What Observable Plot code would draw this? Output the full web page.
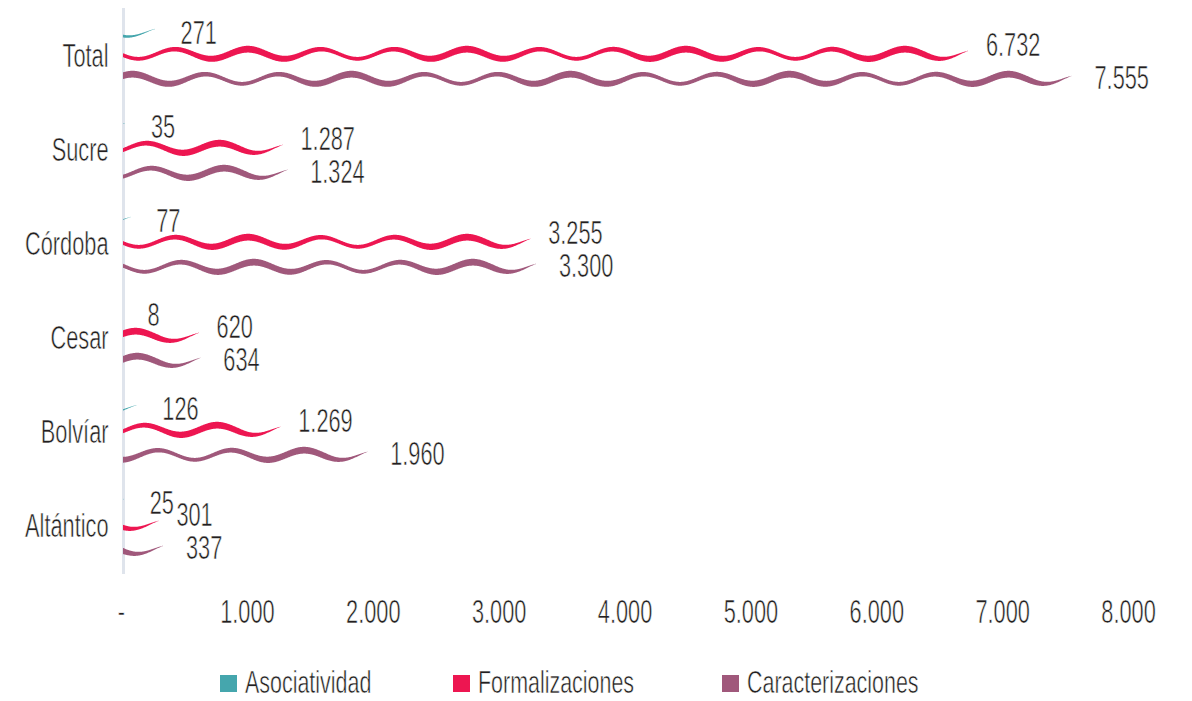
<!DOCTYPE html>
<html>
<head>
<meta charset="utf-8">
<script src="https://cdn.jsdelivr.net/npm/d3@7"></script>
<script src="https://cdn.jsdelivr.net/npm/@observablehq/plot@0.6"></script>
<style>
  body { margin: 0; background: #ffffff; }
  #chart { position: relative; width: 1192px; height: 701px; overflow: hidden;
           font-family: "Liberation Sans", sans-serif; color: #231f20; }
  #chart svg text { stroke: #ffffff; stroke-width: 0.6px; }
  .legend { position: relative; height: 51px; }
  .legend .sw { position: absolute; top: 25px; width: 17px; height: 17px; }
  .legend .lb { position: absolute; top: 16px; font-size: 32px; line-height: 1; white-space: nowrap;
                -webkit-text-stroke: 0.6px #ffffff;
                transform: scaleX(0.67); transform-origin: left center; }
</style>
</head>
<body>
<div id="chart"></div>
<script>
// ---- data ----
const categories = ["Total", "Sucre", "Córdoba", "Cesar", "Bolvíar", "Altántico"];
const series = ["Asociatividad", "Formalizaciones", "Caracterizaciones"];
const asociatividad     = [271, 35, 77, 8, 126, 25];
const formalizaciones   = [6732, 1287, 3255, 620, 1269, 301];
const caracterizaciones = [7555, 1324, 3300, 634, 1960, 337];
const xTicks = [0, 1000, 2000, 3000, 4000, 5000, 6000, 7000, 8000];
const colors = ["#45a6ad", "#ed1651", "#a0587b"];

// ---- table built from the arrays ----
const seriesValues = {Asociatividad: asociatividad, Formalizaciones: formalizaciones, Caracterizaciones: caracterizaciones};
const table = series.flatMap(s => categories.map((c, j) => ({category: c, series: s, value: seriesValues[s][j]})));

const fmt = v => v === 0 ? "-" : d3.format(",")(v).replace(/,/g, ".");

// ---- styling of the wavy bars ----
const rowOffset = {Asociatividad: -24, Formalizaciones: -2, Caracterizaciones: 23};
const waveAmp   = {Asociatividad: 4.5, Formalizaciones: 4.8, Caracterizaciones: 4.8};
const waveThick = {Asociatividad: [3.3, 0.5], Formalizaciones: [5.3, 1.5], Caracterizaciones: [5.3, 1.5]};
const PERIOD = 73, TROUGH = 27, TPERIOD = 217;

function waveRender(index, scales, values) {
  const g = d3.create("svg:g");
  const bw = scales.y && scales.y.bandwidth ? scales.y.bandwidth() : 94;
  for (const i of index) {
    const d = table[i];
    const xa = Math.min(values.x1[i], values.x2[i]) + 2;
    const xb = Math.max(values.x1[i], values.x2[i]);
    if (xb - xa < 1) continue;
    const yc = values.y[i] + bw / 2 + rowOffset[d.series];
    const A = waveAmp[d.series];
    const [tb, ta] = waveThick[d.series];
    const pts = [];
    for (let px = xa; px <= xb + 0.01; px += 0.5) {
      const dist = xb - px;
      const c = yc + A * Math.cos(2 * Math.PI * (dist - TROUGH) / PERIOD);
      const taper = Math.pow(Math.min(1, dist / 42), 0.8);
      const w = Math.max(0.3, (tb + ta * Math.cos(2 * Math.PI * (dist - 70) / TPERIOD)) * taper);
      pts.push([px, c - w / 2, c + w / 2]);
    }
    g.append("path")
      .attr("d", d3.area().x(p => p[0]).y0(p => p[1]).y1(p => p[2])(pts))
      .attr("fill", values.fill ? values.fill[i] : colors[series.indexOf(d.series)]);
  }
  return g.node();
}

const labelDx = [25, 17, 22];
const labelDy = [-23, -11, 22];

const plot = Plot.plot({
  width: 1192,
  height: 650,
  marginLeft: 121,
  marginRight: 64,
  marginTop: 8,
  marginBottom: 76,
  x: {domain: [0, 8000], label: null},
  y: {domain: categories, padding: 0, label: null},
  color: {domain: series, range: colors},
  style: {fontFamily: '"Liberation Sans", sans-serif', fontSize: "33px", color: "#231f20", background: "#ffffff"},
  marks: [
    Plot.axisX({ticks: xTicks, tickFormat: fmt, tickSize: 0, tickPadding: 25, fill: "#231f20", label: null}),
    Plot.axisY({tickSize: 0, tickPadding: 13, fill: "#231f20", label: null}),
    Plot.ruleX([0], {stroke: "#dfe4ec", strokeWidth: 3, dx: 2}),
    Plot.barX(table, {x1: () => 0, x2: "value", y: "category", fill: "series", render: waveRender}),
    ...series.map((s, k) => Plot.text(table.filter(d => d.series === s), {
      x: "value", y: "category", text: d => fmt(d.value), textAnchor: "start",
      dx: labelDx[k], dy: labelDy[k], fill: "#231f20"
    }))
  ]
});

// condense all text horizontally around its anchor point
const SX = 0.66;
d3.select(plot).selectAll("text").each(function() {
  const t = this.getAttribute("transform");
  if (t) this.setAttribute("transform", t + ` scale(${SX},1)`);
  else {
    const x = +(this.getAttribute("x") || 0);
    this.setAttribute("x", x / SX);
    this.setAttribute("transform", `scale(${SX},1)`);
  }
});

const root = d3.select("#chart");
root.node().appendChild(plot);

const legend = root.append("div").attr("class", "legend");
const legendX = [220, 453, 722];
series.forEach((s, k) => {
  legend.append("div").attr("class", "sw").style("left", legendX[k] + "px").style("background", colors[k]);
  legend.append("div").attr("class", "lb").style("left", (legendX[k] + 25) + "px").text(s);
});
</script>
</body>
</html>
